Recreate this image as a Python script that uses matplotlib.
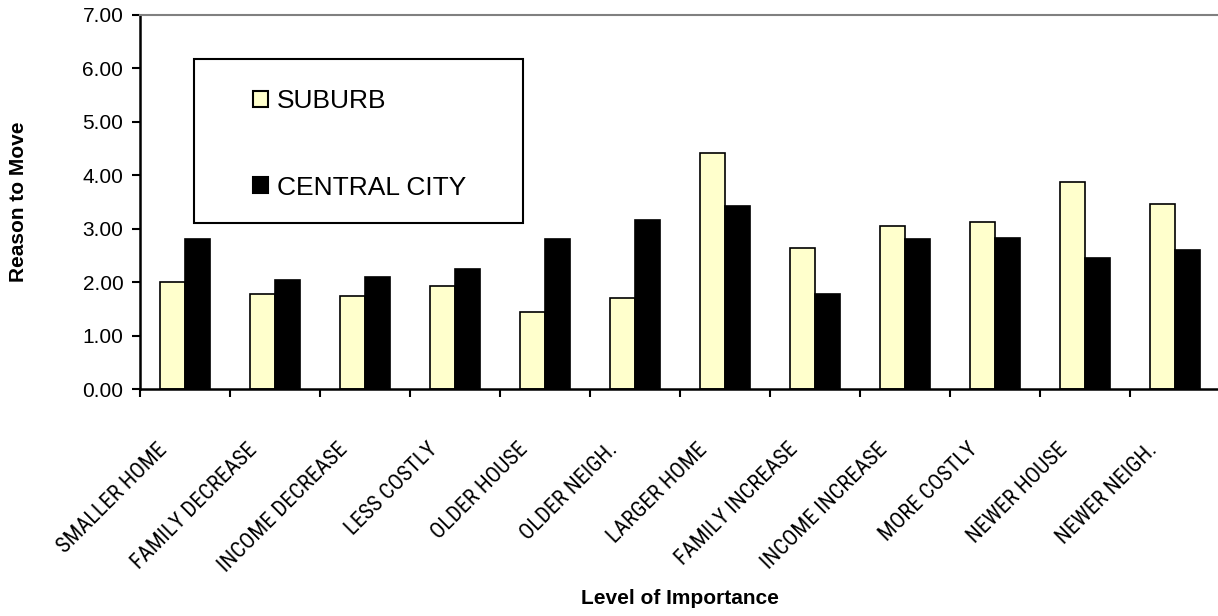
# bar chart: reasons to move, suburb vs central city
import numpy as np
import matplotlib
matplotlib.use("Agg")
from matplotlib import pyplot as plt
from matplotlib.patches import Rectangle
from matplotlib import transforms, font_manager

plt.rcParams['font.family'] = ['Liberation Sans', 'DejaVu Sans']

# data
reasons = ["SMALLER HOME", "FAMILY DECREASE", "INCOME DECREASE", "LESS COSTLY",
           "OLDER HOUSE", "OLDER NEIGH.", "LARGER HOME", "FAMILY INCREASE",
           "INCOME INCREASE", "MORE COSTLY", "NEWER HOUSE", "NEWER NEIGH."]
suburb = [2.01, 1.78, 1.74, 1.93, 1.44, 1.71, 4.41, 2.64, 3.05, 3.13, 3.88, 3.47]
central_city = [2.80, 2.05, 2.09, 2.24, 2.80, 3.17, 3.43, 1.79, 2.80, 2.83, 2.46, 2.61]
y_ticks = [0, 1, 2, 3, 4, 5, 6, 7]

# condensed font for the slanted labels if there is one
names = {f.name for f in font_manager.fontManager.ttflist}
if "Roboto Condensed" in names:
    label_font, label_size = "Roboto Condensed", 16
else:
    label_font, label_size = "Liberation Sans", 13

W, H = 1218, 616
fig = plt.figure(figsize=(W / 100, H / 100), dpi=100)
ax = fig.add_axes([140 / W, (H - 389.3) / H, 1080 / W, (389.3 - 14.7) / H])

x = np.arange(len(reasons))
bw = 0.28
ax.bar(x - bw / 2, suburb, bw, color="#FFFFCC", edgecolor="black", linewidth=1.2,
       label="SUBURB")
ax.bar(x + bw / 2, central_city, bw, color="black", edgecolor="black", linewidth=1.2,
       label="CENTRAL CITY")

ax.set_xlim(-0.5, len(reasons) - 0.5)
ax.set_ylim(0, 7)

# y axis
ax.set_yticks(y_ticks)
ax.set_yticklabels(["%.2f" % v for v in y_ticks], fontsize=15)
ax.tick_params(axis="y", direction="out", length=6, width=1.5, pad=6)

# x axis: tick marks between categories, labels at centers
ax.set_xticks(np.arange(len(reasons) + 1) - 0.5)
ax.set_xticklabels([])
ax.tick_params(axis="x", which="major", direction="out", length=6, width=1.5)
ax.set_xticks(x, minor=True)
ax.set_xticklabels(reasons, minor=True, rotation=45, ha="right", va="top",
                   rotation_mode="anchor", fontsize=label_size, family=label_font)
ax.tick_params(axis="x", which="minor", length=0, pad=36)
offset = transforms.ScaledTranslation(-0.28, 0, fig.dpi_scale_trans)
for lab in ax.xaxis.get_minorticklabels():
    lab.set_transform(lab.get_transform() + offset)

for side in ["left", "bottom"]:
    ax.spines[side].set_linewidth(1.8)
ax.spines["top"].set_color("#808080")
ax.spines["top"].set_linewidth(1.5)
ax.spines["right"].set_visible(False)

ax.set_ylabel("Reason to Move", fontsize=15, fontweight="bold")
ax.yaxis.set_label_coords((28 - 140) / 1080, 0.5)
ax.set_xlabel("Level of Importance", fontsize=15, fontweight="bold")
ax.xaxis.set_label_coords(0.5, -(589 - 389.3) / (389.3 - 14.7))

# legend
leg = ax.legend(loc="upper left", bbox_to_anchor=(253 / W, 1 - 89 / H),
                bbox_transform=fig.transFigure, frameon=False, fontsize=19,
                handlelength=0.57, handleheight=0.57, handletextpad=0.35,
                labelspacing=2.37, borderpad=0, borderaxespad=0)
for h in leg.legend_handles:
    h.set_linewidth(1.5)
fig.add_artist(Rectangle((194 / W, 1 - 223 / H), (523 - 194) / W, (223 - 59) / H,
                         transform=fig.transFigure, fill=False,
                         edgecolor="black", linewidth=1.5, zorder=5))

plt.savefig("out.png", dpi=100)
